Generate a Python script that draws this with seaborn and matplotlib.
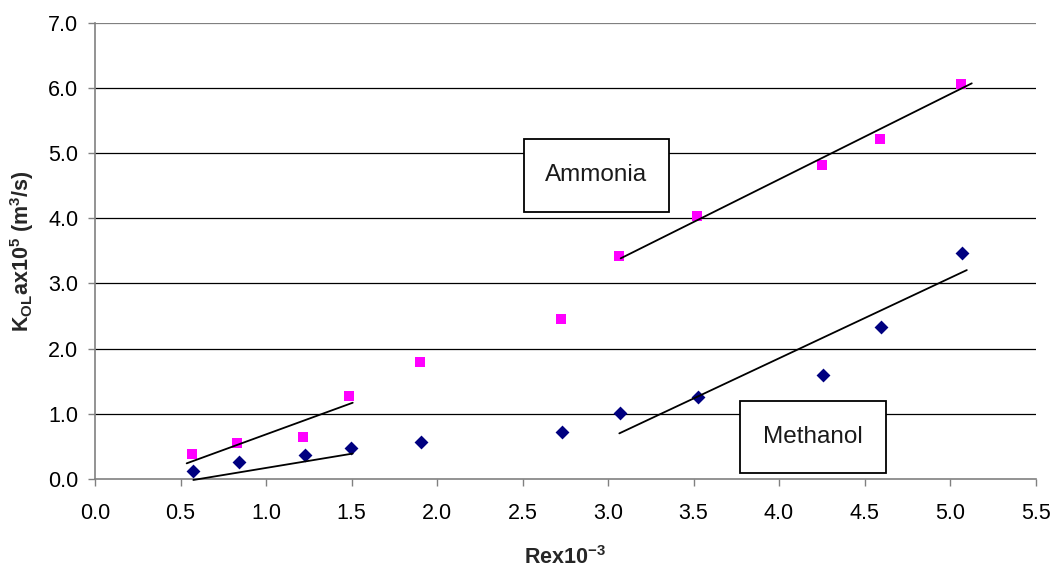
import matplotlib
matplotlib.use("Agg")
import matplotlib.pyplot as plt
from matplotlib.patches import Rectangle
import seaborn as sns
import pandas as pd

# ---- data ----
re_ammonia = [0.565, 0.832, 1.218, 1.487, 1.90, 2.725, 3.062, 3.518, 4.253, 4.590, 5.064]
kla_ammonia = [0.38, 0.55, 0.65, 1.28, 1.79, 2.45, 3.42, 4.03, 4.81, 5.21, 6.06]
re_methanol = [0.571, 0.840, 1.226, 1.495, 1.908, 2.731, 3.068, 3.525, 4.259, 4.595, 5.072]
kla_methanol = [0.13, 0.26, 0.37, 0.475, 0.56, 0.72, 1.02, 1.26, 1.595, 2.33, 3.47]

# trend-line end points
trend_amm_low_x = [0.536, 1.507]
trend_amm_low_y = [0.24, 1.17]
trend_meth_low_x = [0.575, 1.507]
trend_meth_low_y = [-0.015, 0.39]
trend_amm_high_x = [3.074, 5.127]
trend_amm_high_y = [3.385, 6.07]
trend_meth_high_x = [3.066, 5.098]
trend_meth_high_y = [0.70, 3.205]

x_ticks = [0.0, 0.5, 1.0, 1.5, 2.0, 2.5, 3.0, 3.5, 4.0, 4.5, 5.0, 5.5]
y_ticks = [0.0, 1.0, 2.0, 3.0, 4.0, 5.0, 6.0, 7.0]

sns.set_theme(style="white")
plt.rcParams['font.family'] = ['Liberation Sans', 'DejaVu Sans']
plt.rcParams['mathtext.fontset'] = 'custom'
plt.rcParams['mathtext.rm'] = 'Liberation Sans'
plt.rcParams['mathtext.it'] = 'Liberation Sans'
plt.rcParams['mathtext.bf'] = 'Liberation Sans:bold'

fig = plt.figure(figsize=(10.51, 5.68), dpi=100)
ax = fig.add_axes([0.0904, 0.1567, 0.8949, 0.8033])

# gridlines
for yv in y_ticks[1:]:
    ax.axhline(yv, color='black' if yv < 7 else '#808080', lw=0.9, zorder=0)

df_a = pd.DataFrame({'x': re_ammonia, 'y': kla_ammonia})
df_m = pd.DataFrame({'x': re_methanol, 'y': kla_methanol})
sns.scatterplot(data=df_a, x='x', y='y', marker='s', s=55, color='#FF00FF',
                linewidth=0, ax=ax, zorder=3)
sns.scatterplot(data=df_m, x='x', y='y', marker='D', s=50, color='#000080',
                linewidth=0, ax=ax, zorder=3)

for tx, ty in [(trend_amm_low_x, trend_amm_low_y), (trend_meth_low_x, trend_meth_low_y),
               (trend_amm_high_x, trend_amm_high_y), (trend_meth_high_x, trend_meth_high_y)]:
    sns.lineplot(x=tx, y=ty, color='black', lw=1.3, estimator=None, sort=False,
                 ax=ax, zorder=4, clip_on=False)

# annotation boxes
ax.add_patch(Rectangle((2.507, 4.10), 0.848, 1.115, facecolor='white',
                       edgecolor='black', lw=1.3, zorder=5))
ax.text(2.931, 4.657, 'Ammonia', ha='center', va='center', fontsize=17.5, zorder=6,
        color='#1a1a1a')
ax.add_patch(Rectangle((3.772, 0.087), 0.855, 1.113, facecolor='white',
                       edgecolor='black', lw=1.3, zorder=5))
ax.text(4.20, 0.645, 'Methanol', ha='center', va='center', fontsize=17.5, zorder=6,
        color='#1a1a1a')

ax.set_xlim(0, 5.5)
ax.set_ylim(0, 7.0)
ax.set_xticks(x_ticks)
ax.set_yticks(y_ticks)
ax.set_xticklabels([f"{v:.1f}" for v in x_ticks], fontsize=15.5)
ax.set_yticklabels([f"{v:.1f}" for v in y_ticks], fontsize=15.5)
ax.tick_params(axis='both', direction='out', length=5, width=1, color='#808080',
               labelcolor='black', bottom=True, left=True)
ax.tick_params(axis='x', pad=12)
ax.tick_params(axis='y', pad=7)

for s in ['top', 'right']:
    ax.spines[s].set_visible(False)
for s in ['left', 'bottom']:
    ax.spines[s].set_color('#808080')
    ax.spines[s].set_linewidth(1.2)

ax.set_xlabel(r'$\mathbf{Rex10^{-3}}$', fontsize=15.5)
ax.set_ylabel(r'$\mathbf{K_{OL}ax10^{5}\ (m^{3}/s)}$', fontsize=15.5)
ax.xaxis.set_label_coords(0.5, -0.148)
ax.yaxis.set_label_coords(-0.063, 0.5)

fig.savefig('out.png', dpi=100, facecolor='white')
